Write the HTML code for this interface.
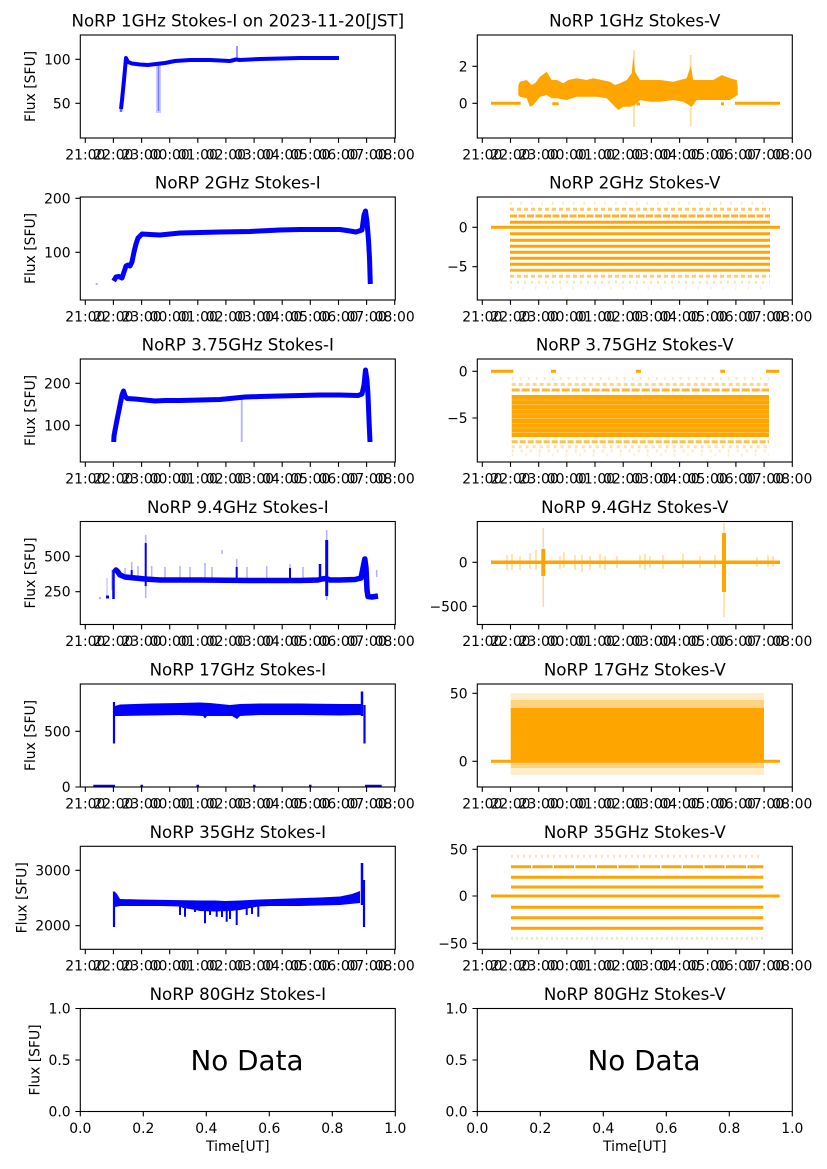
<!DOCTYPE html>
<html><head><meta charset="utf-8"><style>
html,body{margin:0;padding:0;background:#fff;}
svg{display:block;}
text{font-family:"DejaVu Sans","Liberation Sans",sans-serif;fill:#000;}
.t{font-size:16.67px;text-anchor:middle;}
.tk{font-size:13.9px;}
.xl{text-anchor:middle;}
.yl{text-anchor:end;}
.ml{text-anchor:middle;}
.ax{fill:none;stroke:#000;stroke-width:1.1;}
.tm{stroke:#000;stroke-width:1.1;fill:none;}
.b{stroke:#0000ff;fill:none;stroke-linejoin:round;stroke-linecap:butt;}
.o{stroke:#ffa500;fill:none;}
</style></head><body>
<svg width="827" height="1169" viewBox="0 0 827 1169" xmlns="http://www.w3.org/2000/svg">
<defs>
<clipPath id="cL1"><rect x="80.3" y="35" width="315" height="103"/></clipPath>
<clipPath id="cR1"><rect x="477.3" y="35" width="315" height="103"/></clipPath>
<clipPath id="cL2"><rect x="80.3" y="197" width="315" height="103"/></clipPath>
<clipPath id="cR2"><rect x="477.3" y="197" width="315" height="103"/></clipPath>
<clipPath id="cL3"><rect x="80.3" y="359" width="315" height="103"/></clipPath>
<clipPath id="cR3"><rect x="477.3" y="359" width="315" height="103"/></clipPath>
<clipPath id="cL4"><rect x="80.3" y="521.5" width="315" height="103"/></clipPath>
<clipPath id="cR4"><rect x="477.3" y="521.5" width="315" height="103"/></clipPath>
<clipPath id="cL5"><rect x="80.3" y="684" width="315" height="103"/></clipPath>
<clipPath id="cR5"><rect x="477.3" y="684" width="315" height="103"/></clipPath>
<clipPath id="cL6"><rect x="80.3" y="846.3" width="315" height="103"/></clipPath>
<clipPath id="cR6"><rect x="477.3" y="846.3" width="315" height="103"/></clipPath>
</defs>

<!-- ================= ROW 1 ================= -->
<text class="t" x="237.8" y="26.7">NoRP 1GHz Stokes-I on 2023-11-20[JST]</text>
<text class="t" x="634.8" y="26.7">NoRP 1GHz Stokes-V</text>
<g clip-path="url(#cL1)">
  <rect x="156" y="64" width="5" height="49" fill="#0000ff" opacity="0.2"/>
  <line x1="158.5" y1="65" x2="158.5" y2="111" stroke="#0000ff" stroke-width="1.5" opacity="0.4"/>
  <line x1="237" y1="46" x2="237" y2="60" stroke="#0000ff" stroke-width="2" opacity="0.4"/>
  <line x1="121" y1="103" x2="121" y2="112" stroke="#0000ff" stroke-width="2.5" opacity="0.6"/>
  <polyline class="b" stroke-width="4" points="121,109 122,100 124,80 126,58 128,62 132,63.5 140,64.5 148,65 156,64 165,63 175,61 190,60 210,60 230,61 236,59.5 240,60 260,59 280,58.5 300,58 320,58 339,58"/>
</g>
<g clip-path="url(#cR1)">
  <line x1="634" y1="50" x2="634" y2="127" stroke="#ffa500" stroke-width="2" opacity="0.35"/>
  <line x1="690.7" y1="55" x2="690.7" y2="126" stroke="#ffa500" stroke-width="2" opacity="0.35"/>
  <polygon fill="#ffa500" points="518.3,85 520,81.7 526.7,80 531.7,85 535,83.3 540,76.7 546.7,71.7 551.7,80 556.7,80 563.3,83.3 568.3,80 576.7,78.3 586.7,80 593.3,78.3 601.7,80 610,81.7 615,85 620,83.3 626.7,80 631.7,73.3 633.3,56 635,71.7 640,80 650,80 660,80 673.3,81.7 686.7,78.3 690.7,66 693.3,80 703.3,80 713.3,80 721.7,75 730,78.3 736.7,80 737.7,86.7 737.7,95 730,100 720,100 710,100 696.7,100 691.7,106.7 683.3,101.7 673.3,100 660,101.7 650,101.7 640,100 635,105 630,106.7 623.3,106.7 618.3,110 615,106.7 606.7,98.3 596.7,96.7 586.7,96.7 576.7,96.7 566.7,100 556.7,98.3 551.7,98.3 546.7,95 540,96.7 533.3,105 530,106.7 526.7,98.3 520,96.7 518.3,95"/>
  <g class="o" stroke-width="3">
    <line x1="491" y1="103.3" x2="520.7" y2="103.3"/>
    <line x1="552.3" y1="103.8" x2="558.7" y2="103.8"/>
    <line x1="636.7" y1="104" x2="640" y2="104"/>
    <line x1="721" y1="103.8" x2="724" y2="103.8"/>
    <line x1="735" y1="103.3" x2="780" y2="103.3"/>
  </g>
</g>
<rect class="ax" x="80.3" y="35" width="315" height="103"/>
<rect class="ax" x="477.3" y="35" width="315" height="103"/>
<path class="tm" d="M85.3,138v4.9M113.4,138v4.9M141.6,138v4.9M169.7,138v4.9M197.8,138v4.9M225.9,138v4.9M254.1,138v4.9M282.2,138v4.9M310.3,138v4.9M338.5,138v4.9M366.6,138v4.9M394.7,138v4.9M75.4,103.3h4.9M75.4,59.3h4.9"/>
<path class="tm" d="M482.3,138v4.9M510.5,138v4.9M538.7,138v4.9M566.8,138v4.9M595,138v4.9M623.2,138v4.9M651.4,138v4.9M679.6,138v4.9M707.7,138v4.9M735.9,138v4.9M764.1,138v4.9M792.3,138v4.9M472.4,103.3h4.9M472.4,66.3h4.9"/>
<text class="tk xl" y="159.3"><tspan x="85.3">21:00</tspan><tspan x="113.4">22:00</tspan><tspan x="141.6">23:00</tspan><tspan x="169.7">00:00</tspan><tspan x="197.8">01:00</tspan><tspan x="225.9">02:00</tspan><tspan x="254.1">03:00</tspan><tspan x="282.2">04:00</tspan><tspan x="310.3">05:00</tspan><tspan x="338.5">06:00</tspan><tspan x="366.6">07:00</tspan><tspan x="394.7">08:00</tspan></text>
<text class="tk xl" y="159.3"><tspan x="482.3">21:00</tspan><tspan x="510.5">22:00</tspan><tspan x="538.7">23:00</tspan><tspan x="566.8">00:00</tspan><tspan x="595">01:00</tspan><tspan x="623.2">02:00</tspan><tspan x="651.4">03:00</tspan><tspan x="679.6">04:00</tspan><tspan x="707.7">05:00</tspan><tspan x="735.9">06:00</tspan><tspan x="764.1">07:00</tspan><tspan x="792.3">08:00</tspan></text>
<text class="tk yl" x="70.6" y="108.3">50</text>
<text class="tk yl" x="70.6" y="64.3">100</text>
<text class="tk yl" x="467.6" y="108.3">0</text>
<text class="tk yl" x="467.6" y="71.3">2</text>
<text class="tk ml" transform="translate(35,86.5) rotate(-90)">Flux [SFU]</text>

<!-- ================= ROW 2 ================= -->
<text class="t" x="237.8" y="188.7">NoRP 2GHz Stokes-I</text>
<text class="t" x="634.8" y="188.7">NoRP 2GHz Stokes-V</text>
<g clip-path="url(#cL2)">
  <circle cx="96.7" cy="284" r="1.2" fill="#0000ff" opacity="0.3"/>
  <polyline class="b" stroke-width="5" points="113.7,281 116,277 119,276.5 122,278 124,272 126,266 128,265 130,266 132,262 134,252 136,244 138,238 140,236 142,234 150,234.5 160,235 170,234 180,233 200,232.5 220,232 250,231.5 280,230 300,229.5 320,229.5 340,229.5 350,231 356,232 362,230 364,215 365.5,211 367,222 368.5,240 369.5,258 370.3,284"/>
</g>
<g clip-path="url(#cR2)">
  <g class="o" stroke-width="3">
    <line x1="491" y1="227.3" x2="780" y2="227.3"/>
    <line x1="510" y1="222.3" x2="770" y2="222.3"/>
    <line x1="510" y1="233.7" x2="770" y2="233.7"/>
    <line x1="510" y1="240.3" x2="770" y2="240.3"/>
    <line x1="510" y1="246.3" x2="770" y2="246.3"/>
    <line x1="510" y1="252.3" x2="770" y2="252.3"/>
    <line x1="510" y1="258.3" x2="770" y2="258.3"/>
    <line x1="510" y1="264.3" x2="770" y2="264.3"/>
    <line x1="510" y1="270.3" x2="770" y2="270.3" opacity="0.9"/>
    <line x1="510" y1="216" x2="770" y2="216" stroke-dasharray="7 1.5" opacity="0.85"/>
    <line x1="510" y1="209.3" x2="770" y2="209.3" stroke-dasharray="4 3" opacity="0.6"/>
    <line x1="510" y1="276.3" x2="770" y2="276.3" stroke-dasharray="4 3" opacity="0.55"/>
    <line x1="510" y1="282.3" x2="770" y2="282.3" stroke-dasharray="2 5" opacity="0.3"/>
    <line x1="510" y1="203.3" x2="770" y2="203.3" stroke-dasharray="1.5 9" opacity="0.25"/>
    <line x1="510" y1="288" x2="770" y2="288" stroke-dasharray="1.5 11" opacity="0.2"/>
  </g>
</g>
<rect class="ax" x="80.3" y="197" width="315" height="103"/>
<rect class="ax" x="477.3" y="197" width="315" height="103"/>
<path class="tm" d="M85.3,300v4.9M113.4,300v4.9M141.6,300v4.9M169.7,300v4.9M197.8,300v4.9M225.9,300v4.9M254.1,300v4.9M282.2,300v4.9M310.3,300v4.9M338.5,300v4.9M366.6,300v4.9M394.7,300v4.9M75.4,252.3h4.9M75.4,198.3h4.9"/>
<path class="tm" d="M482.3,300v4.9M510.5,300v4.9M538.7,300v4.9M566.8,300v4.9M595,300v4.9M623.2,300v4.9M651.4,300v4.9M679.6,300v4.9M707.7,300v4.9M735.9,300v4.9M764.1,300v4.9M792.3,300v4.9M472.4,266.7h4.9M472.4,227.3h4.9"/>
<text class="tk xl" y="321.3"><tspan x="85.3">21:00</tspan><tspan x="113.4">22:00</tspan><tspan x="141.6">23:00</tspan><tspan x="169.7">00:00</tspan><tspan x="197.8">01:00</tspan><tspan x="225.9">02:00</tspan><tspan x="254.1">03:00</tspan><tspan x="282.2">04:00</tspan><tspan x="310.3">05:00</tspan><tspan x="338.5">06:00</tspan><tspan x="366.6">07:00</tspan><tspan x="394.7">08:00</tspan></text>
<text class="tk xl" y="321.3"><tspan x="482.3">21:00</tspan><tspan x="510.5">22:00</tspan><tspan x="538.7">23:00</tspan><tspan x="566.8">00:00</tspan><tspan x="595">01:00</tspan><tspan x="623.2">02:00</tspan><tspan x="651.4">03:00</tspan><tspan x="679.6">04:00</tspan><tspan x="707.7">05:00</tspan><tspan x="735.9">06:00</tspan><tspan x="764.1">07:00</tspan><tspan x="792.3">08:00</tspan></text>
<text class="tk yl" x="70.6" y="257.3">100</text>
<text class="tk yl" x="70.6" y="203.3">200</text>
<text class="tk yl" x="467.6" y="271.7">−5</text>
<text class="tk yl" x="467.6" y="232.3">0</text>
<text class="tk ml" transform="translate(35,248.5) rotate(-90)">Flux [SFU]</text>

<!-- ================= ROW 3 ================= -->
<text class="t" x="237.8" y="350.7">NoRP 3.75GHz Stokes-I</text>
<text class="t" x="634.8" y="350.7">NoRP 3.75GHz Stokes-V</text>
<g clip-path="url(#cL3)">
  <line x1="241.7" y1="398" x2="241.7" y2="442" stroke="#0000ff" stroke-width="1.8" opacity="0.3"/>
  <polyline class="b" stroke-width="5" points="113.7,442 114,436 116,425 118,415 120,405 122,395 123.5,391 125,396 127,398.5 135,399 145,400 155,401 165,400.5 180,400.5 200,400 220,399.5 235,398 245,397 260,396.5 280,396 300,395.5 320,395 340,395 358,395.5 362,394 364,385 365.5,370 367,380 368,395 369,420 370,442"/>
</g>
<g clip-path="url(#cR3)">
  <g class="o" stroke-width="3">
    <line x1="491" y1="371.3" x2="513.3" y2="371.3"/>
    <line x1="551" y1="371.3" x2="556" y2="371.3"/>
    <line x1="636" y1="371.3" x2="641" y2="371.3"/>
    <line x1="720.3" y1="371.3" x2="725" y2="371.3"/>
    <line x1="766" y1="371.3" x2="779.3" y2="371.3"/>
  </g>
  <rect x="511.7" y="395" width="257.3" height="42" fill="#ffa500"/>
  <g stroke="#fff" stroke-width="0.6" opacity="0.45">
    <line x1="511.7" y1="400" x2="769" y2="400"/>
    <line x1="511.7" y1="404.7" x2="769" y2="404.7"/>
    <line x1="511.7" y1="409.3" x2="769" y2="409.3"/>
    <line x1="511.7" y1="414" x2="769" y2="414"/>
    <line x1="511.7" y1="418.7" x2="769" y2="418.7"/>
    <line x1="511.7" y1="423.3" x2="769" y2="423.3"/>
    <line x1="511.7" y1="428" x2="769" y2="428"/>
    <line x1="511.7" y1="432.7" x2="769" y2="432.7"/>
  </g>
  <g class="o" stroke-width="3">
    <line x1="511.7" y1="390" x2="769" y2="390" stroke-dasharray="8 2" opacity="0.8"/>
    <line x1="511.7" y1="384.5" x2="769" y2="384.5" stroke-dasharray="4 3" opacity="0.45"/>
    <line x1="511.7" y1="378.5" x2="769" y2="378.5" stroke-dasharray="2 6" opacity="0.25"/>
    <line x1="511.7" y1="441.7" x2="769" y2="441.7" stroke-dasharray="6 2" opacity="0.7"/>
    <line x1="511.7" y1="446.7" x2="769" y2="446.7" stroke-dasharray="3 4" opacity="0.35"/>
    <line x1="511.7" y1="451" x2="769" y2="451" stroke-dasharray="2 7" opacity="0.25"/>
    <line x1="511.7" y1="455" x2="769" y2="455" stroke-dasharray="1.5 12" opacity="0.2"/>
  </g>
</g>
<rect class="ax" x="80.3" y="359" width="315" height="103"/>
<rect class="ax" x="477.3" y="359" width="315" height="103"/>
<path class="tm" d="M85.3,462v4.9M113.4,462v4.9M141.6,462v4.9M169.7,462v4.9M197.8,462v4.9M225.9,462v4.9M254.1,462v4.9M282.2,462v4.9M310.3,462v4.9M338.5,462v4.9M366.6,462v4.9M394.7,462v4.9M75.4,425.3h4.9M75.4,383.3h4.9"/>
<path class="tm" d="M482.3,462v4.9M510.5,462v4.9M538.7,462v4.9M566.8,462v4.9M595,462v4.9M623.2,462v4.9M651.4,462v4.9M679.6,462v4.9M707.7,462v4.9M735.9,462v4.9M764.1,462v4.9M792.3,462v4.9M472.4,418h4.9M472.4,371.3h4.9"/>
<text class="tk xl" y="483.3"><tspan x="85.3">21:00</tspan><tspan x="113.4">22:00</tspan><tspan x="141.6">23:00</tspan><tspan x="169.7">00:00</tspan><tspan x="197.8">01:00</tspan><tspan x="225.9">02:00</tspan><tspan x="254.1">03:00</tspan><tspan x="282.2">04:00</tspan><tspan x="310.3">05:00</tspan><tspan x="338.5">06:00</tspan><tspan x="366.6">07:00</tspan><tspan x="394.7">08:00</tspan></text>
<text class="tk xl" y="483.3"><tspan x="482.3">21:00</tspan><tspan x="510.5">22:00</tspan><tspan x="538.7">23:00</tspan><tspan x="566.8">00:00</tspan><tspan x="595">01:00</tspan><tspan x="623.2">02:00</tspan><tspan x="651.4">03:00</tspan><tspan x="679.6">04:00</tspan><tspan x="707.7">05:00</tspan><tspan x="735.9">06:00</tspan><tspan x="764.1">07:00</tspan><tspan x="792.3">08:00</tspan></text>
<text class="tk yl" x="70.6" y="430.3">100</text>
<text class="tk yl" x="70.6" y="388.3">200</text>
<text class="tk yl" x="467.6" y="423">−5</text>
<text class="tk yl" x="467.6" y="376.3">0</text>
<text class="tk ml" transform="translate(35,410.5) rotate(-90)">Flux [SFU]</text>

<!-- ================= ROW 4 ================= -->
<text class="t" x="237.8" y="513.2">NoRP 9.4GHz Stokes-I</text>
<text class="t" x="634.8" y="513.2">NoRP 9.4GHz Stokes-V</text>
<g clip-path="url(#cL4)">
  <circle cx="100" cy="598" r="1.2" fill="#0000ff" opacity="0.3"/>
  <rect x="106" y="595.5" width="3" height="3" fill="#0000ff"/>
  <line x1="107" y1="578" x2="107" y2="595" stroke="#0000ff" stroke-width="1.2" opacity="0.25"/>
  <g stroke="#0000ff" stroke-width="1.5" opacity="0.3">
    <line x1="145.7" y1="535" x2="145.7" y2="598"/>
    <line x1="326.7" y1="530" x2="326.7" y2="600"/>
    <line x1="125" y1="568" x2="125" y2="578"/>
    <line x1="131.7" y1="562" x2="131.7" y2="578"/>
    <line x1="138" y1="566" x2="138" y2="578"/>
    <line x1="151.7" y1="566" x2="151.7" y2="578"/>
    <line x1="165" y1="567" x2="165" y2="578"/>
    <line x1="180" y1="566" x2="180" y2="578"/>
    <line x1="190" y1="567" x2="190" y2="578"/>
    <line x1="205" y1="563" x2="205" y2="578"/>
    <line x1="212" y1="567" x2="212" y2="578"/>
    <line x1="222" y1="550" x2="222" y2="554"/>
    <line x1="236.7" y1="559" x2="236.7" y2="578"/>
    <line x1="247" y1="567" x2="247" y2="578"/>
    <line x1="266.7" y1="566" x2="266.7" y2="578"/>
    <line x1="290" y1="564" x2="290" y2="578"/>
    <line x1="303" y1="567" x2="303" y2="578"/>
    <line x1="376.7" y1="570" x2="376.7" y2="577"/>
    <line x1="112" y1="570" x2="112" y2="590"/>
  </g>
  <g stroke="#0000ff" stroke-width="2">
    <line x1="145.7" y1="543" x2="145.7" y2="586"/>
    <line x1="236.7" y1="567" x2="236.7" y2="578"/>
    <line x1="290" y1="568" x2="290" y2="578"/>
    <line x1="131.7" y1="570" x2="131.7" y2="578"/>
  </g>
  <line x1="326.7" y1="540" x2="326.7" y2="596" stroke="#0000ff" stroke-width="3"/>
  <line x1="320" y1="564" x2="320" y2="578" stroke="#0000ff" stroke-width="2.5"/>
  <line x1="113.5" y1="570" x2="113.5" y2="599" stroke="#0000ff" stroke-width="2.5"/>
  <polyline class="b" stroke-width="5.5" points="114.5,572 116,570 118,572 120,575 125,577 135,578 145,579 160,580 200,580 250,580.5 300,580.5 318,580 322,579 326,578.5 330,580 340,580 355,579.5 361,578 363,568 364.8,559 366,568 367,590 368,596.5 372,597 378,596"/>
</g>
<g clip-path="url(#cR4)">
  <g stroke="#ffa500" stroke-width="1.5" opacity="0.4">
    <line x1="543.3" y1="528" x2="543.3" y2="607"/>
    <line x1="724" y1="523" x2="724" y2="617"/>
    <line x1="507" y1="555" x2="507" y2="570"/>
    <line x1="512" y1="554" x2="512" y2="570"/>
    <line x1="520" y1="556" x2="520" y2="570"/>
    <line x1="530" y1="553" x2="530" y2="569"/>
    <line x1="536" y1="550" x2="536" y2="570"/>
    <line x1="560" y1="556" x2="560" y2="569"/>
    <line x1="564" y1="552" x2="564" y2="568"/>
    <line x1="575" y1="555" x2="575" y2="570"/>
    <line x1="582" y1="555" x2="582" y2="572"/>
    <line x1="590" y1="556" x2="590" y2="570"/>
    <line x1="600" y1="554" x2="600" y2="568"/>
    <line x1="605" y1="556" x2="605" y2="570"/>
    <line x1="617" y1="556" x2="617" y2="568"/>
    <line x1="640" y1="555" x2="640" y2="568"/>
    <line x1="645" y1="554" x2="645" y2="570"/>
    <line x1="650" y1="556" x2="650" y2="568"/>
    <line x1="663" y1="555" x2="663" y2="569"/>
    <line x1="683" y1="554" x2="683" y2="568"/>
    <line x1="700" y1="556" x2="700" y2="568"/>
    <line x1="715" y1="555" x2="715" y2="568"/>
    <line x1="757" y1="557" x2="757" y2="567"/>
    <line x1="768" y1="555" x2="768" y2="567"/>
    <line x1="773" y1="556" x2="773" y2="567"/>
  </g>
  <line x1="543.3" y1="549" x2="543.3" y2="576" stroke="#ffa500" stroke-width="4"/>
  <line x1="724" y1="533" x2="724" y2="592" stroke="#ffa500" stroke-width="4"/>
  <line x1="491" y1="562.3" x2="780" y2="562.3" stroke="#ffa500" stroke-width="3.5"/>
</g>
<rect class="ax" x="80.3" y="521.5" width="315" height="103"/>
<rect class="ax" x="477.3" y="521.5" width="315" height="103"/>
<path class="tm" d="M85.3,624.5v4.9M113.4,624.5v4.9M141.6,624.5v4.9M169.7,624.5v4.9M197.8,624.5v4.9M225.9,624.5v4.9M254.1,624.5v4.9M282.2,624.5v4.9M310.3,624.5v4.9M338.5,624.5v4.9M366.6,624.5v4.9M394.7,624.5v4.9M75.4,591.7h4.9M75.4,556.3h4.9"/>
<path class="tm" d="M482.3,624.5v4.9M510.5,624.5v4.9M538.7,624.5v4.9M566.8,624.5v4.9M595,624.5v4.9M623.2,624.5v4.9M651.4,624.5v4.9M679.6,624.5v4.9M707.7,624.5v4.9M735.9,624.5v4.9M764.1,624.5v4.9M792.3,624.5v4.9M472.4,606.3h4.9M472.4,562.3h4.9"/>
<text class="tk xl" y="645.8"><tspan x="85.3">21:00</tspan><tspan x="113.4">22:00</tspan><tspan x="141.6">23:00</tspan><tspan x="169.7">00:00</tspan><tspan x="197.8">01:00</tspan><tspan x="225.9">02:00</tspan><tspan x="254.1">03:00</tspan><tspan x="282.2">04:00</tspan><tspan x="310.3">05:00</tspan><tspan x="338.5">06:00</tspan><tspan x="366.6">07:00</tspan><tspan x="394.7">08:00</tspan></text>
<text class="tk xl" y="645.8"><tspan x="482.3">21:00</tspan><tspan x="510.5">22:00</tspan><tspan x="538.7">23:00</tspan><tspan x="566.8">00:00</tspan><tspan x="595">01:00</tspan><tspan x="623.2">02:00</tspan><tspan x="651.4">03:00</tspan><tspan x="679.6">04:00</tspan><tspan x="707.7">05:00</tspan><tspan x="735.9">06:00</tspan><tspan x="764.1">07:00</tspan><tspan x="792.3">08:00</tspan></text>
<text class="tk yl" x="70.6" y="596.7">250</text>
<text class="tk yl" x="70.6" y="561.3">500</text>
<text class="tk yl" x="467.6" y="611.3">−500</text>
<text class="tk yl" x="467.6" y="567.3">0</text>
<text class="tk ml" transform="translate(35,573) rotate(-90)">Flux [SFU]</text>

<!-- ================= ROW 5 ================= -->
<text class="t" x="237.8" y="675.7">NoRP 17GHz Stokes-I</text>
<text class="t" x="634.8" y="675.7">NoRP 17GHz Stokes-V</text>
<g clip-path="url(#cL5)">
  <polygon fill="#0000ff" points="113.3,703 115,706 120,704.5 150,703.5 180,703 200,702.5 210,703 220,704 230,705 240,704 260,703.5 300,703.5 340,704 361,704 361,715 340,715.5 300,715 260,715 240,716 237,719 232,716 222,716 207,716 205,718.5 203,716 180,715 150,715.5 120,716 113.3,716"/>
  <line x1="114" y1="702" x2="114" y2="743.5" stroke="#0000ff" stroke-width="2.2"/>
  <line x1="362" y1="691.5" x2="362" y2="716" stroke="#0000ff" stroke-width="2.5"/>
  <line x1="364.5" y1="705" x2="364.5" y2="743.5" stroke="#0000ff" stroke-width="2.2"/>
  <g stroke="#0000ff" stroke-width="2.5">
    <line x1="93.3" y1="786" x2="115" y2="786"/>
    <line x1="140.5" y1="786" x2="143" y2="786"/>
    <line x1="196.5" y1="786" x2="199" y2="786"/>
    <line x1="253" y1="786" x2="255.5" y2="786"/>
    <line x1="309" y1="786" x2="311.5" y2="786"/>
    <line x1="365" y1="786" x2="381.7" y2="786"/>
  </g>
</g>
<g clip-path="url(#cR5)">
  <rect x="510.7" y="693" width="253.3" height="7" fill="#ffa500" opacity="0.2"/>
  <rect x="510.7" y="700" width="253.3" height="8" fill="#ffa500" opacity="0.5"/>
  <rect x="510.7" y="762" width="253.3" height="6" fill="#ffa500" opacity="0.5"/>
  <rect x="510.7" y="768" width="253.3" height="7" fill="#ffa500" opacity="0.2"/>
  <rect x="510.7" y="708" width="253.3" height="54" fill="#ffa500"/>
  <line x1="491" y1="761.3" x2="780" y2="761.3" stroke="#ffa500" stroke-width="3"/>
</g>
<rect class="ax" x="80.3" y="684" width="315" height="103"/>
<rect class="ax" x="477.3" y="684" width="315" height="103"/>
<path class="tm" d="M85.3,787v4.9M113.4,787v4.9M141.6,787v4.9M169.7,787v4.9M197.8,787v4.9M225.9,787v4.9M254.1,787v4.9M282.2,787v4.9M310.3,787v4.9M338.5,787v4.9M366.6,787v4.9M394.7,787v4.9M75.4,787h4.9M75.4,731.3h4.9"/>
<path class="tm" d="M482.3,787v4.9M510.5,787v4.9M538.7,787v4.9M566.8,787v4.9M595,787v4.9M623.2,787v4.9M651.4,787v4.9M679.6,787v4.9M707.7,787v4.9M735.9,787v4.9M764.1,787v4.9M792.3,787v4.9M472.4,761.3h4.9M472.4,693.3h4.9"/>
<text class="tk xl" y="808.3"><tspan x="85.3">21:00</tspan><tspan x="113.4">22:00</tspan><tspan x="141.6">23:00</tspan><tspan x="169.7">00:00</tspan><tspan x="197.8">01:00</tspan><tspan x="225.9">02:00</tspan><tspan x="254.1">03:00</tspan><tspan x="282.2">04:00</tspan><tspan x="310.3">05:00</tspan><tspan x="338.5">06:00</tspan><tspan x="366.6">07:00</tspan><tspan x="394.7">08:00</tspan></text>
<text class="tk xl" y="808.3"><tspan x="482.3">21:00</tspan><tspan x="510.5">22:00</tspan><tspan x="538.7">23:00</tspan><tspan x="566.8">00:00</tspan><tspan x="595">01:00</tspan><tspan x="623.2">02:00</tspan><tspan x="651.4">03:00</tspan><tspan x="679.6">04:00</tspan><tspan x="707.7">05:00</tspan><tspan x="735.9">06:00</tspan><tspan x="764.1">07:00</tspan><tspan x="792.3">08:00</tspan></text>
<text class="tk yl" x="70.6" y="792">0</text>
<text class="tk yl" x="70.6" y="736.3">500</text>
<text class="tk yl" x="467.6" y="766.3">0</text>
<text class="tk yl" x="467.6" y="698.3">50</text>
<text class="tk ml" transform="translate(35,735.5) rotate(-90)">Flux [SFU]</text>

<!-- ================= ROW 6 ================= -->
<text class="t" x="237.8" y="838">NoRP 35GHz Stokes-I</text>
<text class="t" x="634.8" y="838">NoRP 35GHz Stokes-V</text>
<g clip-path="url(#cL6)">
  <polygon fill="#0000ff" points="115,892 117,894 120,899 140,899.5 170,900 200,900.5 215,900.5 225,901 240,900.5 260,899.5 290,898.5 320,897.5 340,896.5 352,894 360,891 360,903 340,905 300,906 270,906 258,906.5 250,908 240,910 230,911 215,911.5 200,911 190,909 183,908 180,906.5 160,906 130,906 120,906 115,907"/>
  <g stroke="#0000ff" stroke-width="2">
    <line x1="180" y1="905" x2="180" y2="915"/>
    <line x1="185" y1="905" x2="185" y2="916.7"/>
    <line x1="205" y1="905" x2="205" y2="923.3"/>
    <line x1="216.7" y1="905" x2="216.7" y2="916.7"/>
    <line x1="222" y1="905" x2="222" y2="917"/>
    <line x1="226.7" y1="905" x2="226.7" y2="921.7"/>
    <line x1="230" y1="905" x2="230" y2="919"/>
    <line x1="236.7" y1="905" x2="236.7" y2="925"/>
    <line x1="246.7" y1="905" x2="246.7" y2="915"/>
    <line x1="252" y1="905" x2="252" y2="914"/>
    <line x1="258.3" y1="905" x2="258.3" y2="916.7"/>
    <line x1="195" y1="905" x2="195" y2="912"/>
    <line x1="210" y1="905" x2="210" y2="915"/>
  </g>
  <line x1="114" y1="891.5" x2="114" y2="927" stroke="#0000ff" stroke-width="2.2"/>
  <line x1="362" y1="863" x2="362" y2="905" stroke="#0000ff" stroke-width="2.5"/>
  <line x1="364" y1="880" x2="364" y2="927" stroke="#0000ff" stroke-width="2.2"/>
</g>
<g clip-path="url(#cR6)">
  <g class="o" stroke-width="3">
    <line x1="491" y1="896" x2="779.7" y2="896"/>
    <line x1="511" y1="866.7" x2="763.3" y2="866.7" stroke-dasharray="20 1.5"/>
    <line x1="511" y1="877.3" x2="763.3" y2="877.3"/>
    <line x1="511" y1="887" x2="763.3" y2="887"/>
    <line x1="511" y1="907.3" x2="763.3" y2="907.3"/>
    <line x1="511" y1="917.7" x2="763.3" y2="917.7"/>
    <line x1="511" y1="928.3" x2="763.3" y2="928.3"/>
    <line x1="511" y1="856.3" x2="763.3" y2="856.3" stroke-dasharray="2 4" opacity="0.3"/>
    <line x1="511" y1="938.3" x2="763.3" y2="938.3" stroke-dasharray="2 3" opacity="0.3"/>
  </g>
</g>
<rect class="ax" x="80.3" y="846.3" width="315" height="103"/>
<rect class="ax" x="477.3" y="846.3" width="315" height="103"/>
<path class="tm" d="M85.3,949.3v4.9M113.4,949.3v4.9M141.6,949.3v4.9M169.7,949.3v4.9M197.8,949.3v4.9M225.9,949.3v4.9M254.1,949.3v4.9M282.2,949.3v4.9M310.3,949.3v4.9M338.5,949.3v4.9M366.6,949.3v4.9M394.7,949.3v4.9M75.4,925.7h4.9M75.4,870.3h4.9"/>
<path class="tm" d="M482.3,949.3v4.9M510.5,949.3v4.9M538.7,949.3v4.9M566.8,949.3v4.9M595,949.3v4.9M623.2,949.3v4.9M651.4,949.3v4.9M679.6,949.3v4.9M707.7,949.3v4.9M735.9,949.3v4.9M764.1,949.3v4.9M792.3,949.3v4.9M472.4,943.3h4.9M472.4,896h4.9M472.4,849.3h4.9"/>
<text class="tk xl" y="970.6"><tspan x="85.3">21:00</tspan><tspan x="113.4">22:00</tspan><tspan x="141.6">23:00</tspan><tspan x="169.7">00:00</tspan><tspan x="197.8">01:00</tspan><tspan x="225.9">02:00</tspan><tspan x="254.1">03:00</tspan><tspan x="282.2">04:00</tspan><tspan x="310.3">05:00</tspan><tspan x="338.5">06:00</tspan><tspan x="366.6">07:00</tspan><tspan x="394.7">08:00</tspan></text>
<text class="tk xl" y="970.6"><tspan x="482.3">21:00</tspan><tspan x="510.5">22:00</tspan><tspan x="538.7">23:00</tspan><tspan x="566.8">00:00</tspan><tspan x="595">01:00</tspan><tspan x="623.2">02:00</tspan><tspan x="651.4">03:00</tspan><tspan x="679.6">04:00</tspan><tspan x="707.7">05:00</tspan><tspan x="735.9">06:00</tspan><tspan x="764.1">07:00</tspan><tspan x="792.3">08:00</tspan></text>
<text class="tk yl" x="70.6" y="930.7">2000</text>
<text class="tk yl" x="70.6" y="875.3">3000</text>
<text class="tk yl" x="467.6" y="948.3">−50</text>
<text class="tk yl" x="467.6" y="901">0</text>
<text class="tk yl" x="467.6" y="854.3">50</text>
<text class="tk ml" transform="translate(26.3,897.8) rotate(-90)">Flux [SFU]</text>

<!-- ================= ROW 7 ================= -->
<text class="t" x="237.8" y="1000.2">NoRP 80GHz Stokes-I</text>
<text class="t" x="634.8" y="1000.2">NoRP 80GHz Stokes-V</text>
<text x="190.5" y="1070" style="font-size:27.8px;text-anchor:start;">No Data</text>
<text x="587.5" y="1070" style="font-size:27.8px;text-anchor:start;">No Data</text>
<rect class="ax" x="80.3" y="1008.5" width="315" height="103"/>
<rect class="ax" x="477.3" y="1008.5" width="315" height="103"/>
<path class="tm" d="M80.3,1111.5v4.9M143.3,1111.5v4.9M206.3,1111.5v4.9M269.3,1111.5v4.9M332.3,1111.5v4.9M395.3,1111.5v4.9M75.4,1111.5h4.9M75.4,1060h4.9M75.4,1008.5h4.9"/>
<path class="tm" d="M477.3,1111.5v4.9M540.3,1111.5v4.9M603.3,1111.5v4.9M666.3,1111.5v4.9M729.3,1111.5v4.9M792.3,1111.5v4.9M472.4,1111.5h4.9M472.4,1060h4.9M472.4,1008.5h4.9"/>
<text class="tk xl" y="1132.8"><tspan x="80.3">0.0</tspan><tspan x="143.3">0.2</tspan><tspan x="206.3">0.4</tspan><tspan x="269.3">0.6</tspan><tspan x="332.3">0.8</tspan><tspan x="395.3">1.0</tspan></text>
<text class="tk xl" y="1132.8"><tspan x="477.3">0.0</tspan><tspan x="540.3">0.2</tspan><tspan x="603.3">0.4</tspan><tspan x="666.3">0.6</tspan><tspan x="729.3">0.8</tspan><tspan x="792.3">1.0</tspan></text>
<text class="tk yl" x="70.6" y="1116.5">0.0</text>
<text class="tk yl" x="70.6" y="1065">0.5</text>
<text class="tk yl" x="70.6" y="1013.5">1.0</text>
<text class="tk yl" x="467.6" y="1116.5">0.0</text>
<text class="tk yl" x="467.6" y="1065">0.5</text>
<text class="tk yl" x="467.6" y="1013.5">1.0</text>
<text class="tk ml" transform="translate(39.6,1060) rotate(-90)">Flux [SFU]</text>
<text class="tk ml" x="237.8" y="1151">Time[UT]</text>
<text class="tk ml" x="634.8" y="1151">Time[UT]</text>
</svg>
</body></html>
